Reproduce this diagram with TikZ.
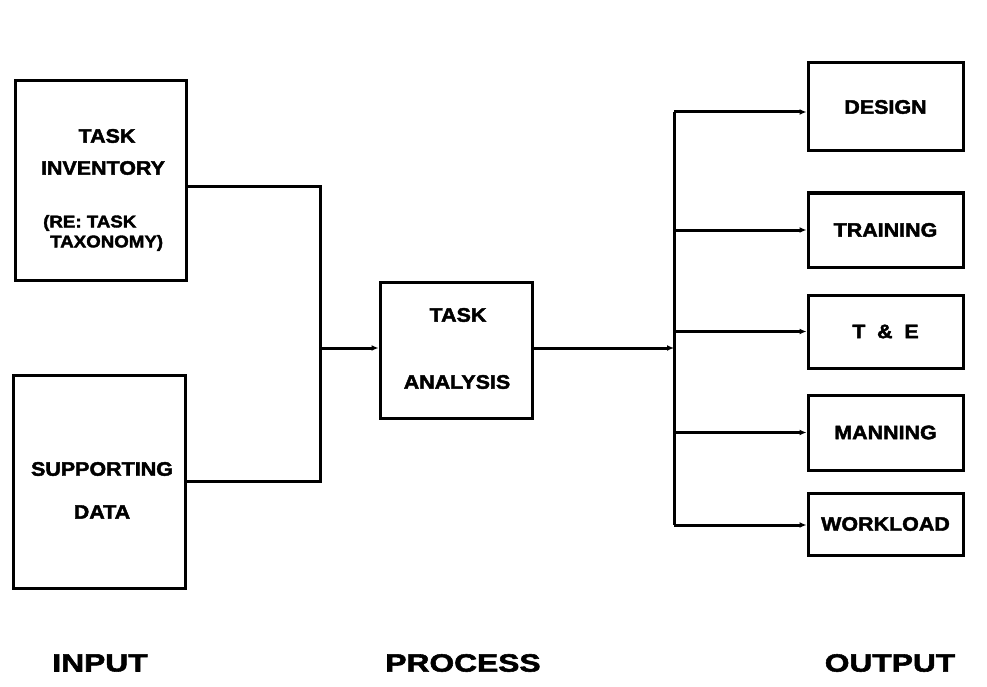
\documentclass[tikz,border=0pt]{standalone}
\usepackage{fontspec}
\usetikzlibrary{arrows.meta}
\newfontfamily\boxfont[FakeStretch=1.1,FakeBold=2.2]{Liberation Sans Bold}
\newfontfamily\labfont[FakeStretch=1.27,FakeBold=2.2]{Liberation Sans Bold}
\tikzset{
  box/.style={draw, line width=3pt, inner sep=0pt, rectangle},
  conn/.style={line width=3pt},
  arr/.style={conn, -{Latex[length=7pt,width=6pt]}},
  txt/.style={inner sep=0pt, font=\boxfont\fontsize{19.5}{22}\selectfont},
  smalltxt/.style={inner sep=0pt, anchor=west, font=\boxfont\fontsize{17}{20}\selectfont},
  lab/.style={inner sep=0pt, font=\labfont\fontsize{25}{28}\selectfont}
}
\begin{document}
\begin{tikzpicture}[x=1pt,y=-1pt]
\useasboundingbox (0,0) rectangle (987,687);
% input boxes
\node[box, minimum width=171pt, minimum height=199pt] (ti) at (100.5,180.5) {};
\node[txt] (ti1) at (107,136) {TASK};
\node[txt] (ti2) at (103,168) {INVENTORY};
\node[smalltxt] (ti3) at (43,223) {(RE: TASK};
\node[smalltxt] (ti4) at (50,243) {TAXONOMY)};
\node[box, minimum width=172pt, minimum height=213pt] (sd) at (99,481.5) {};
\node[txt] (sd1) at (102,469) {SUPPORTING};
\node[txt] (sd2) at (102,512) {DATA};
% process
\node[box, minimum width=152pt, minimum height=136pt] (ta) at (456,350) {};
\node[txt] (ta1) at (458,315) {TASK};
\node[txt] (ta2) at (457,382) {ANALYSIS};
% outputs
\node[box, txt, minimum width=155pt, minimum height=88pt] (des) at (885.5,107) {DESIGN};
\node[box, txt, minimum width=155pt, minimum height=74pt] (trn) at (885.5,230) {TRAINING};
\node[box, txt, minimum width=155pt, minimum height=73pt] (te) at (885.5,331.5) {T\hspace{0.6em}\&\hspace{0.6em}E};
\node[box, txt, minimum width=155pt, minimum height=75pt] (man) at (885.5,432.5) {MANNING};
\node[box, txt, minimum width=155pt, minimum height=62pt] (wl) at (885.5,524) {WORKLOAD};
% labels
\node[lab] (lin) at (100,663) {INPUT};
\node[lab] (lpr) at (463,663) {PROCESS};
\node[lab] (lout) at (890,663) {OUTPUT};
% connectors
\coordinate (j) at (320,348);
\coordinate (b) at (674,348);
\draw[conn] ([yshift=-6pt]ti.east) -| (j);
\draw[conn] (sd.east) -| (j);
\draw[arr] (j) -- (ta.west |- j);
\draw[arr] (ta.east |- b) -- (b);
\coordinate (btop) at (674,112);
\coordinate (bbot) at (674,525);
\draw[conn] (btop) -- (bbot);
\draw[arr] (btop) -- (des.west |- btop);
\draw[arr] (b |- trn.west) -- (trn.west);
\draw[arr] (b |- te.west) -- (te.west);
\draw[arr] (b |- man.west) -- (man.west);
\draw[arr] (bbot) -- (wl.west |- bbot);
\end{tikzpicture}
\end{document}
